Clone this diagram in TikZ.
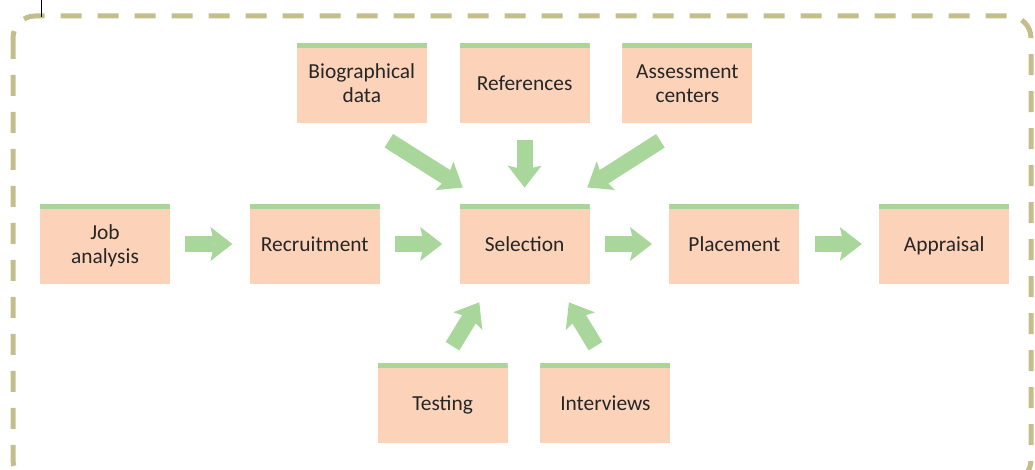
\documentclass[tikz,border=0pt]{standalone}
\usepackage{fontspec}
\setmainfont{Carlito}
\usepackage{tikz}
\usetikzlibrary{arrows.meta, positioning}
\definecolor{stagebg}{RGB}{252,211,185}
\definecolor{bandgreen}{RGB}{169,213,153}
\definecolor{flowgreen}{RGB}{169,214,155}
\definecolor{framekhaki}{RGB}{196,190,140}
\definecolor{textdark}{RGB}{38,38,38}
\newcommand{\stagetop}{\rule{0pt}{10.5pt}}
\newcommand{\stagebot}{\rule[-2.7pt]{0pt}{2.7pt}}

\begin{document}
\begin{tikzpicture}[x=0.5pt, y=-0.5pt,
    font=\fontsize{10.7}{12}\selectfont, text=textdark,
    stage/.style={fill=stagebg, minimum width=65pt, minimum height=40pt,
        inner sep=2pt, align=center, text width=60pt,
        execute at begin node=\stagetop, execute at end node=\stagebot,
        path picture={\fill[bandgreen] (path picture bounding box.north west)
          rectangle ([yshift=-2.5pt]path picture bounding box.north east);}},
    flow/.style={draw=flowgreen, line width=8pt,
        -{Stealth[length=11pt, width=17pt, inset=2pt, line width=0pt]}}]
  \useasboundingbox (0,0) rectangle (1035,470);
  \draw[framekhaki, line width=2.5pt, dash pattern=on 10.5pt off 8pt,
        rounded corners=11pt] (13,16) rectangle (1031,482);
  \draw[line width=0.5pt] (41,0) -- (41,17);

  \node[stage] (job) at (105,244) {Job\\analysis};
  \node[stage, right=39.5pt of job] (recr) {Recruitment};
  \node[stage, right=39.5pt of recr] (sel) {Selection};
  \node[stage, right=39.5pt of sel] (plac) {Placement};
  \node[stage, right=39.5pt of plac] (appr) {Appraisal};

  \node[stage, above=40pt of sel] (refs) {References};
  \node[stage, left=16pt of refs] (bio) {Biographical\\data};
  \node[stage, right=16pt of refs] (assess) {Assessment\\centers};

  \node[stage, below=39pt of sel, xshift=-41pt] (test) {Testing};
  \node[stage, right=16pt of test] (interv) {Interviews};

  \draw[flow, shorten <=7.5pt, shorten >=8.5pt] (job) -- (recr);
  \draw[flow, shorten <=7.5pt, shorten >=8.5pt] (recr) -- (sel);
  \draw[flow, shorten <=7.5pt, shorten >=8.5pt] (sel) -- (plac);
  \draw[flow, shorten <=7.5pt, shorten >=8.5pt] (plac) -- (appr);

  \draw[flow, shorten <=16pt, shorten >=15pt]
    (bio.south) -- ([xshift=14.5pt]sel.north west);
  \draw[flow, shorten <=8pt, shorten >=8pt] (refs.south) -- (sel.north);
  \draw[flow, shorten <=16pt, shorten >=15pt]
    (assess.south) -- ([xshift=-14pt]sel.north east);

  \draw[flow, shorten <=9.5pt, shorten >=10.5pt]
    (test.north) -- ([xshift=15.5pt]sel.south west);
  \draw[flow, shorten <=9.5pt, shorten >=10.5pt]
    (interv.north) -- ([xshift=-16pt]sel.south east);
\end{tikzpicture}
\end{document}
